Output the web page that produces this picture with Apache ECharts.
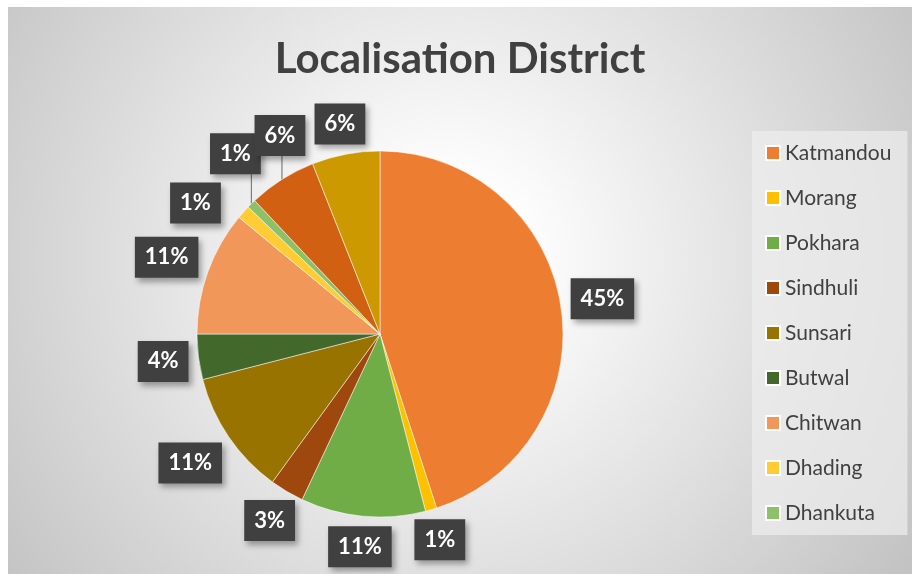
<!DOCTYPE html>
<html>
<head>
<meta charset="utf-8">
<script src="https://cdn.jsdelivr.net/npm/echarts@6/dist/echarts.min.js"></script>
<style>
  html, body { margin: 0; padding: 0; background: #ffffff; }
  #chart { position: absolute; left: 8px; top: 7px; width: 904px; height: 567px; }
</style>
</head>
<body>
<div id="chart"></div>
<script>
// ---- data ----
const titleText = 'Localisation District';
const categories = ['Katmandou', 'Morang', 'Pokhara', 'Sindhuli', 'Sunsari', 'Butwal', 'Chitwan', 'Dhading', 'Dhankuta', 'District 10', 'District 11'];
const values = [45, 1, 11, 3, 11, 4, 11, 1.2, 0.8, 6, 6];
const legendNames = ['Katmandou', 'Morang', 'Pokhara', 'Sindhuli', 'Sunsari', 'Butwal', 'Chitwan', 'Dhading', 'Dhankuta'];

// ---- styling / layout ----
const colors = ['#ED7D31', '#FFC000', '#70AD47', '#9E480E', '#997300', '#43682B', '#F1975A', '#FFCD33', '#8CC168', '#D26012', '#CC9A00'];
const CENTER = [372, 327];
const RADIUS = 183;
const GAP = 10;
// labels moved by hand in the original (offset of label centre from slice's outer mid point)
const labelOffsets = { 'Dhading': [-48, -9], 'Dhankuta': [-16, -50], 'District 10': [-2, -44] };
const leaderLineNames = ['Dhankuta', 'District 10'];

const total = values.reduce((a, b) => a + b, 0);
function midAngle(i) {
  let before = 0;
  for (let k = 0; k < i; k++) before += values[k];
  return (before + values[i] / 2) / total * Math.PI * 2; // clockwise from top
}

const chart = echarts.init(document.getElementById('chart'));
chart.setOption({
  backgroundColor: {
    type: 'radial', x: 440, y: 250, r: 560, global: true,
    colorStops: [
      { offset: 0, color: '#ffffff' },
      { offset: 0.12, color: '#ffffff' },
      { offset: 1, color: '#c2c2c2' }
    ]
  },
  color: colors,
  title: {
    text: titleText,
    left: 'center',
    top: 26,
    textStyle: { fontFamily: 'Lato', fontWeight: 'bold', fontSize: 42, color: '#404040' }
  },
  legend: {
    data: legendNames,
    orient: 'vertical',
    left: 744,
    top: 124,
    padding: [11, 16, 11, 13],
    itemWidth: 14,
    itemHeight: 14,
    itemGap: 23,
    icon: 'rect',
    backgroundColor: 'rgba(238,238,238,0.7)',
    textStyle: { fontFamily: 'Lato', fontSize: 21, lineHeight: 22, color: '#404040' }
  },
  series: [{
    type: 'pie',
    center: CENTER,
    radius: RADIUS,
    startAngle: 90,
    clockwise: true,
    percentPrecision: 0,
    avoidLabelOverlap: false,
    itemStyle: { borderColor: '#ffffff', borderWidth: 0.5 },
    emphasis: { disabled: true },
    label: {
      show: true,
      position: 'outside',
      formatter: '{d}%',
      fontFamily: 'Lato',
      fontWeight: 'bold',
      fontSize: 22,
      lineHeight: 22,
      color: '#ffffff',
      backgroundColor: '#404040',
      padding: [10, 10, 9, 10],
      shadowBlur: 6,
      shadowOffsetX: 3,
      shadowOffsetY: 4,
      shadowColor: 'rgba(0,0,0,0.35)'
    },
    labelLine: { show: false, lineStyle: { color: '#7f7f7f', width: 1.2 } },
    labelLayout: function (params) {
      const i = params.dataIndex;
      const a = midAngle(i);
      const dx = Math.sin(a), dy = -Math.cos(a);
      const ex = CENTER[0] + dx * RADIUS, ey = CENTER[1] + dy * RADIUS;
      const w = params.labelRect.width, h = params.labelRect.height;
      const name = categories[i];
      const off = labelOffsets[name];
      if (off) {
        const cx = ex + off[0], cy = ey + off[1];
        const res = { x: cx, y: cy, align: 'center', verticalAlign: 'middle' };
        if (leaderLineNames.indexOf(name) >= 0) {
          res.labelLinePoints = [[ex, ey], [ex, (ey + cy + h / 2) / 2], [ex, cy + h / 2]];
        }
        return res;
      }
      const t = Math.min((w / 2) / Math.max(Math.abs(dx), 1e-6), (h / 2) / Math.max(Math.abs(dy), 1e-6));
      const d = RADIUS + GAP + t;
      return { x: CENTER[0] + dx * d, y: CENTER[1] + dy * d, align: 'center', verticalAlign: 'middle' };
    },
    data: categories.map((name, i) => {
      const item = { name: name, value: values[i] };
      if (leaderLineNames.indexOf(name) >= 0) item.labelLine = { show: true };
      return item;
    })
  }]
});
</script>
</body>
</html>
